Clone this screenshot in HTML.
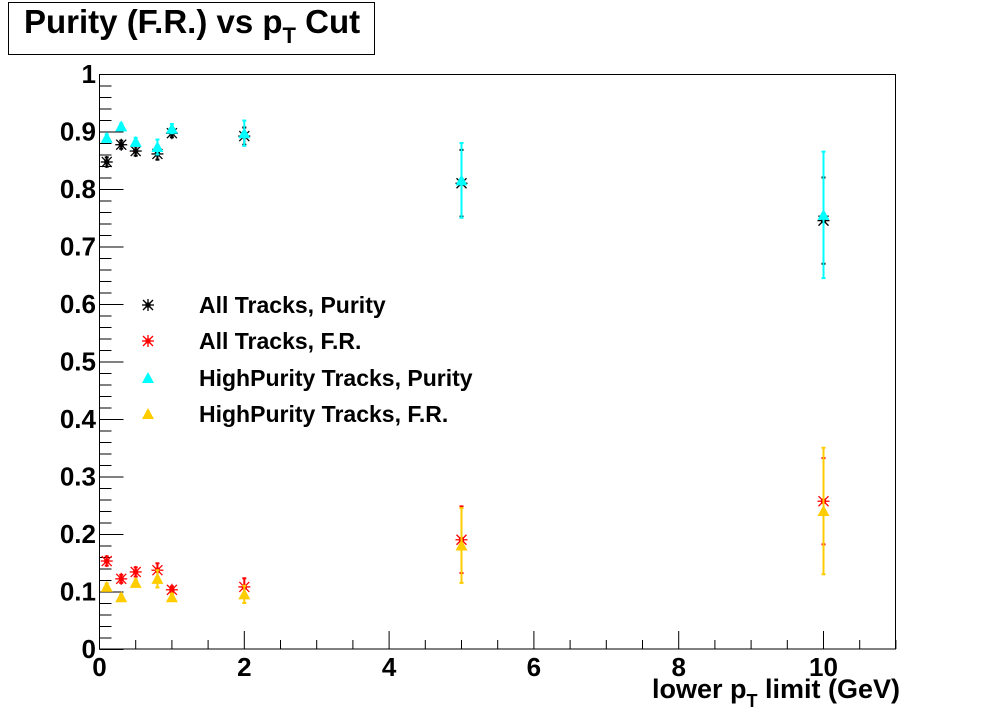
<!DOCTYPE html>
<html><head><meta charset="utf-8"><style>
body{margin:0;background:#fff;}
svg{display:block;font-family:"Liberation Sans",sans-serif;font-weight:bold;}
</style></head><body>
<svg id="s" width="996" height="722" xmlns="http://www.w3.org/2000/svg">
<rect width="996" height="722" fill="#fff"/>
<rect x="8.5" y="2.5" width="366" height="52" fill="#fff" stroke="#000"/>
<text x="24" y="33" font-size="33">Purity (F.R.) vs p<tspan font-size="22" dy="10">T</tspan><tspan dy="-10"> Cut</tspan></text>
<rect x="99.5" y="74.5" width="796" height="574.5" fill="none" stroke="#000"/>
<g id="ax" stroke="#000"></g>
<g id="lab" font-size="26" text-anchor="end"></g>
<text x="900" y="698" font-size="27" text-anchor="end">lower p<tspan font-size="18" dy="9">T</tspan><tspan dy="-9"> limit (GeV)</tspan></text>
<g id="data"></g>
<g font-size="23">
<text x="199" y="313">All Tracks, Purity</text>
<text x="199" y="349">All Tracks, F.R.</text>
<text x="199" y="386">HighPurity Tracks, Purity</text>
<text x="199" y="422">HighPurity Tracks, F.R.</text>
</g>
</svg>
<script>
const NS="http://www.w3.org/2000/svg";
function el(p,t,a,txt){const e=document.createElementNS(NS,t);for(const k in a)e.setAttribute(k,a[k]);if(txt!==undefined)e.textContent=txt;p.appendChild(e);return e;}
const X=v=>99.5+v*72.4, Y=v=>649-v*575;
const ax=document.getElementById('ax'),lab=document.getElementById('lab');
for(let i=0;i<=50;i++){const v=i*0.02,y=Y(v)+0.5,maj=i%5==0;el(ax,'line',{x1:99.5,x2:99.5+(maj?24:12),y1:y,y2:y});}
for(let i=0;i<=10;i++){const v=i/10;el(lab,'text',{x:96,y:Y(v)+9},i==10?'1':i==0?'0':v.toFixed(1));}
for(let i=0;i<=22;i++){const v=i*0.5,x=X(v),maj=i%4==0;el(ax,'line',{x1:x,x2:x,y1:649,y2:649-(maj?18:9)});}
for(let i=0;i<=10;i+=2)el(lab,'text',{x:X(i),y:676,'text-anchor':'middle'},String(i));
const xs=[0.1,0.3,0.5,0.8,1,2,5,10];
const series=[
 {c:'#000',m:'star',v:[0.847,0.877,0.866,0.861,0.897,0.892,0.81,0.745],e:[0.008,0.007,0.008,0.01,0.007,0.015,0.058,0.075]},
 {c:'#00ffff',m:'tri',v:[0.889,0.909,0.882,0.873,0.905,0.897,0.815,0.755],e:[0.006,0.005,0.007,0.013,0.008,0.022,0.065,0.11]},
 {c:'#ff0000',m:'star',v:[0.153,0.122,0.134,0.137,0.103,0.108,0.19,0.257],e:[0.008,0.007,0.008,0.012,0.006,0.015,0.058,0.075]},
 {c:'#ffcc00',m:'tri',v:[0.108,0.09,0.115,0.122,0.09,0.095,0.18,0.24],e:[0.006,0.005,0.006,0.015,0.006,0.015,0.065,0.11]}];
const d=document.getElementById('data');
function mark(c,m,x,y){
 if(m=='tri')el(d,'polygon',{points:`${x-6},${y+5} ${x+6},${y+5} ${x},${y-6}`,fill:c});
 else{const g=el(d,'g',{stroke:c,'stroke-width':1.3});
  el(g,'line',{x1:x-6,x2:x+6,y1:y,y2:y});el(g,'line',{x1:x,x2:x,y1:y-6,y2:y+6});
  el(g,'line',{x1:x-5,x2:x+5,y1:y-5,y2:y+5});el(g,'line',{x1:x-5,x2:x+5,y1:y+5,y2:y-5});
  el(d,'rect',{x:x-2.5,y:y-2.5,width:5,height:5,fill:c});}
}
series.forEach(s=>{xs.forEach((xv,i)=>{const x=X(xv),y=Y(s.v[i]),y1=Y(s.v[i]+s.e[i]),y2=Y(s.v[i]-s.e[i]);
 el(d,'line',{x1:x,x2:x,y1:y1,y2:y2,stroke:s.c,'stroke-width':2});
 el(d,'line',{x1:x-2,x2:x+2,y1:y1,y2:y1,stroke:s.c,'stroke-width':2});
 el(d,'line',{x1:x-2,x2:x+2,y1:y2,y2:y2,stroke:s.c,'stroke-width':2});
 mark(s.c,s.m,x,y);});});
mark('#000','star',148,305);mark('#ff0000','star',148,341);mark('#00ffff','tri',148,378);mark('#ffcc00','tri',148,414);
</script>
</body></html>
